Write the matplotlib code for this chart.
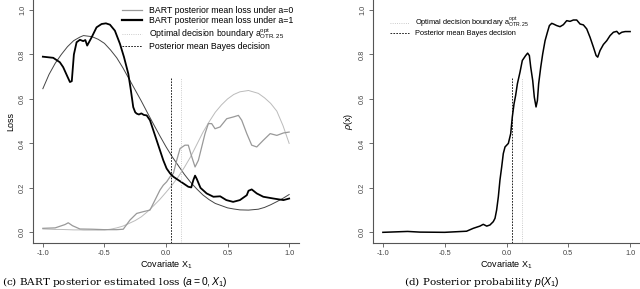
import numpy as np
import matplotlib.pyplot as plt
from matplotlib.lines import Line2D

plt.rcParams['font.family'] = ['Liberation Sans', 'DejaVu Sans']
plt.rcParams['mathtext.fontset'] = 'custom'
plt.rcParams['mathtext.rm'] = 'Liberation Sans'
plt.rcParams['mathtext.it'] = 'Liberation Sans:italic'

# true (smooth) loss curves
x_true = [-1.0, -0.95, -0.9, -0.85, -0.8, -0.75, -0.7, -0.67, -0.6, -0.55, -0.5,
          -0.45, -0.4, -0.35, -0.3, -0.25, -0.2, -0.15, -0.1, -0.05, 0.0, 0.05,
          0.1, 0.15, 0.2, 0.25, 0.3, 0.35, 0.4, 0.45, 0.5, 0.55, 0.6, 0.67,
          0.75, 0.8, 0.85, 0.9, 0.95, 1.0]
loss1_true = [0.646, 0.71, 0.76, 0.80, 0.835, 0.862, 0.878, 0.885, 0.88, 0.868, 0.85,
              0.82, 0.785, 0.74, 0.69, 0.64, 0.59, 0.537, 0.485, 0.434, 0.385, 0.34,
              0.30, 0.26, 0.225, 0.195, 0.168, 0.147, 0.13, 0.12, 0.11, 0.105, 0.101, 0.10,
              0.104, 0.112, 0.124, 0.138, 0.153, 0.17]
loss0_true = [0.015, 0.014, 0.013, 0.013, 0.012, 0.011, 0.011, 0.01, 0.01, 0.01, 0.011,
              0.014, 0.02, 0.028, 0.04, 0.053, 0.07, 0.093, 0.12, 0.148, 0.18, 0.213,
              0.25, 0.293, 0.34, 0.395, 0.45, 0.497, 0.54, 0.573, 0.60, 0.62, 0.632, 0.638,
              0.625, 0.605, 0.58, 0.545, 0.48, 0.40]

# BART posterior mean loss under a=1
x_bart1 = [-1.0, -0.916, -0.862, -0.835, -0.80, -0.78, -0.765, -0.748, -0.726, -0.699,
           -0.672, -0.655, -0.64, -0.604, -0.564, -0.523, -0.488, -0.455, -0.415, -0.374,
           -0.341, -0.306, -0.285, -0.266, -0.25, -0.238, -0.22, -0.2, -0.18, -0.157,
           -0.13, -0.103, -0.076, -0.049, -0.022, 0.005, 0.033, 0.06, 0.1, 0.141,
           0.181, 0.205, 0.222, 0.236, 0.25, 0.28, 0.33, 0.385, 0.44, 0.49, 0.545,
           0.6, 0.656, 0.67, 0.696, 0.737, 0.79, 0.873, 0.954, 1.0]
loss1_bart = [0.79, 0.785, 0.765, 0.743, 0.70, 0.676, 0.68, 0.80, 0.855, 0.866,
              0.86, 0.865, 0.84, 0.877, 0.922, 0.937, 0.94, 0.934, 0.907, 0.848,
              0.788, 0.713, 0.638, 0.563, 0.54, 0.534, 0.53, 0.535, 0.528, 0.526,
              0.504, 0.459, 0.414, 0.369, 0.324, 0.287, 0.265, 0.25, 0.235, 0.22,
              0.205, 0.202, 0.235, 0.255, 0.24, 0.2, 0.175, 0.16, 0.162, 0.145, 0.137,
              0.145, 0.167, 0.187, 0.193, 0.175, 0.16, 0.152, 0.145, 0.152]

# BART posterior mean loss under a=0
x_bart0 = [-1.0, -0.9, -0.82, -0.794, -0.76, -0.699, -0.6, -0.5, -0.4, -0.347,
           -0.293, -0.238, -0.184, -0.13, -0.103, -0.076, -0.049, -0.022, 0.005, 0.033,
           0.06, 0.087, 0.114, 0.154, 0.181, 0.209, 0.236, 0.263, 0.29, 0.317,
           0.344, 0.371, 0.398, 0.439, 0.493, 0.547, 0.588, 0.615, 0.656, 0.696,
           0.737, 0.79, 0.846, 0.9, 0.954, 1.0]
loss0_bart = [0.018, 0.02, 0.035, 0.043, 0.03, 0.015, 0.014, 0.012, 0.012, 0.014,
              0.055, 0.085, 0.093, 0.10, 0.13, 0.16, 0.19, 0.212, 0.227, 0.25,
              0.265, 0.324, 0.377, 0.392, 0.392, 0.34, 0.294, 0.324, 0.384, 0.444,
              0.489, 0.489, 0.466, 0.474, 0.511, 0.519, 0.526, 0.504, 0.444, 0.392,
              0.384, 0.414, 0.444, 0.436, 0.447, 0.451]

# posterior probability rho(x)
x_rho = [-1.0, -0.9, -0.8, -0.7, -0.5, -0.323, -0.269, -0.215, -0.188, -0.16,
         -0.134, -0.107, -0.093, -0.08, -0.066, -0.053, -0.039, -0.026, -0.012, 0.015,
         0.034, 0.047, 0.061, 0.074, 0.088, 0.109, 0.128, 0.155, 0.171, 0.185,
         0.196, 0.212, 0.225, 0.239, 0.25, 0.26, 0.277, 0.293, 0.312, 0.331,
         0.347, 0.366, 0.38, 0.406, 0.433, 0.46, 0.487, 0.514, 0.541, 0.568,
         0.595, 0.622, 0.649, 0.676, 0.703, 0.725, 0.738, 0.757, 0.784, 0.811,
         0.838, 0.865, 0.892, 0.911, 0.933, 0.96, 1.0]
rho = [0.0, 0.002, 0.004, 0.001, 0.0, 0.005, 0.018, 0.028, 0.036, 0.028,
       0.033, 0.048, 0.063, 0.10, 0.16, 0.235, 0.294, 0.354, 0.384, 0.40,
       0.444, 0.519, 0.578, 0.616, 0.668, 0.72, 0.773, 0.795, 0.806, 0.795,
       0.743, 0.683, 0.608, 0.564, 0.593, 0.668, 0.743, 0.803, 0.862, 0.90,
       0.93, 0.94, 0.937, 0.93, 0.925, 0.934, 0.952, 0.949, 0.955, 0.955,
       0.937, 0.933, 0.915, 0.877, 0.833, 0.795, 0.788, 0.818, 0.845, 0.862,
       0.885, 0.90, 0.904, 0.892, 0.90, 0.903, 0.903]

a_opt = 0.122
a_bayes = 0.043
vline_top = 0.695

ticks_x = [-1.0, -0.5, 0.0, 0.5, 1.0]
ticks_y = [0.0, 0.2, 0.4, 0.6, 0.8, 1.0]

fig = plt.figure(figsize=(6.4, 2.89), dpi=100)
ax1 = fig.add_axes([33 / 640, 1 - 243 / 289, 266 / 640, 243 / 289])
ax2 = fig.add_axes([373 / 640, 1 - 243 / 289, 267 / 640, 243 / 289])


def style_axes(ax):
    ax.set_xlim(-1.08, 1.08)
    ax.set_ylim(-0.048, 1.045)
    for s in ['top', 'right']:
        ax.spines[s].set_visible(False)
    for s in ['left', 'bottom']:
        ax.spines[s].set_color('#555555')
        ax.spines[s].set_linewidth(0.8)
    ax.set_xticks(ticks_x)
    ax.set_yticks(ticks_y)
    ax.set_xticklabels(['-1.0', '-0.5', '0.0', '0.5', '1.0'])
    ax.set_yticklabels(['0.0', '0.2', '0.4', '0.6', '0.8', '1.0'],
                       rotation=90, va='center')
    ax.tick_params(length=3, width=0.6, color='#555555', labelsize=5.3,
                   labelcolor='#444444', pad=2)
    ax.set_xlabel('Covariate X$_1$', fontsize=6.5, labelpad=1)


style_axes(ax1)
style_axes(ax2)

# left panel
ax1.plot(x_true, loss1_true, color='#444444', lw=0.7)
ax1.plot(x_true, loss0_true, color='#bbbbbb', lw=0.7)
ax1.plot(x_bart0, loss0_bart, color='#999999', lw=0.9)
ax1.plot(x_bart1, loss1_bart, color='black', lw=1.3)
ax1.plot([a_opt, a_opt], [-0.048, vline_top], color='#bbbbbb', lw=0.6, ls=':')
ax1.plot([a_bayes, a_bayes], [-0.048, vline_top], color='black', lw=0.6,
         ls=(0, (2, 1.5)))
ax1.set_ylabel('Loss', fontsize=6.5, labelpad=3)

opt_label = r'Optimal decision boundary a$^{\rm opt}_{\rm OTR.25}$'
h1 = [Line2D([], [], color='#999999', lw=0.9),
      Line2D([], [], color='black', lw=1.6),
      Line2D([], [], color='#bbbbbb', lw=0.6, ls=':'),
      Line2D([], [], color='black', lw=0.6, ls=(0, (2, 1.5)))]
l1 = ['BART posterior mean loss under a=0', 'BART posterior mean loss under a=1',
      opt_label, 'Posterior mean Bayes decision']
ax1.legend(h1, l1, loc='upper left', bbox_to_anchor=(0.335, 0.975), frameon=False,
           fontsize=6.3, handlelength=2.3, handletextpad=0.8, labelspacing=0.12,
           borderaxespad=0, borderpad=0)

# right panel
ax2.plot(x_rho, rho, color='black', lw=1.1)
ax2.plot([a_opt, a_opt], [-0.048, vline_top], color='#bbbbbb', lw=0.6, ls=':')
ax2.plot([a_bayes, a_bayes], [-0.048, vline_top], color='black', lw=0.6,
         ls=(0, (2, 1.5)))
ax2.set_ylabel(r'$\rho$(x)', fontsize=6.5, labelpad=3)
ax2.legend(h1[2:], l1[2:], loc='upper left', bbox_to_anchor=(0.065, 0.935),
           frameon=False, fontsize=5.3, handlelength=2.5, handletextpad=0.9,
           labelspacing=0.12, borderaxespad=0, borderpad=0)

# sub-captions
cap = dict(fontsize=7.5, family='DejaVu Serif', va='bottom')
fig.text(2 / 640, 0, r'(c) BART posterior estimated loss $(a=0, X_1)$',
         ha='left', **cap)
fig.text(482 / 640, 0, r'(d) Posterior probability $p(X_1)$', ha='center', **cap)

fig.savefig('out.png', dpi=100)
